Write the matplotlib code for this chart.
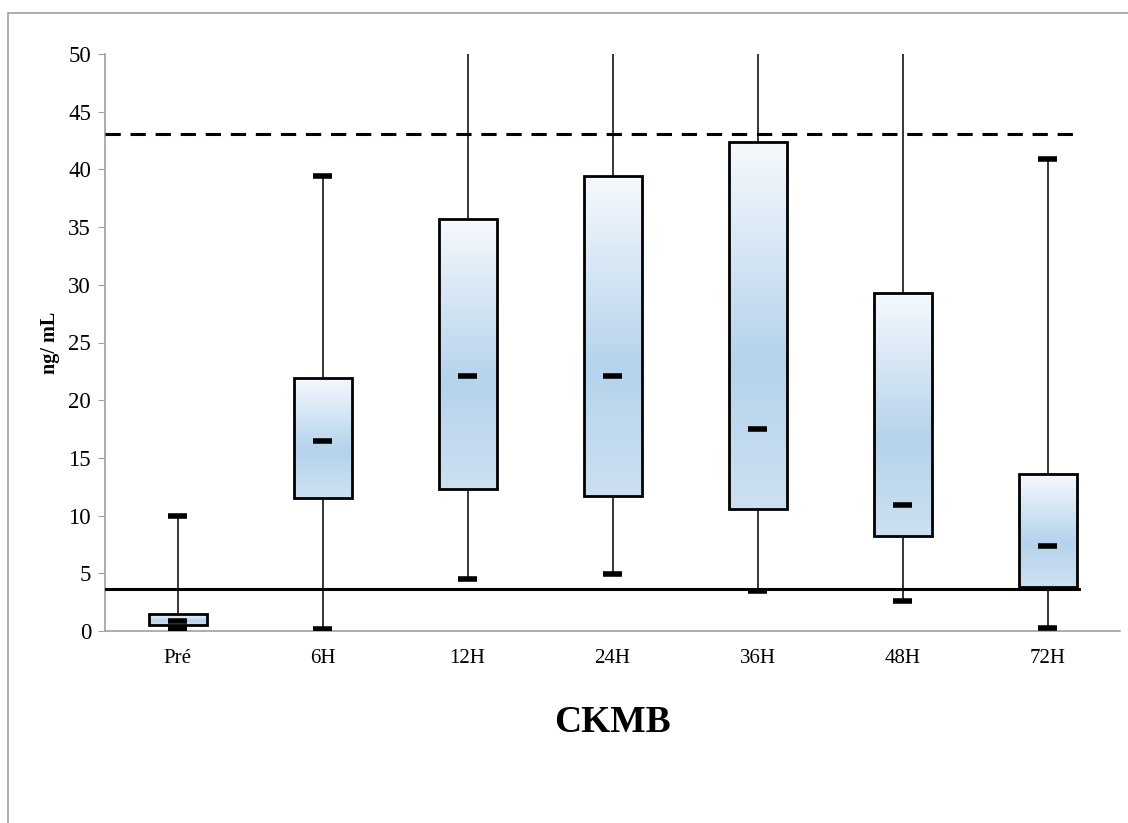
import numpy as np
import matplotlib
matplotlib.use('Agg')
import matplotlib.pyplot as plt
from matplotlib.colors import LinearSegmentedColormap
from matplotlib.patches import Rectangle

plt.rcParams['font.family'] = ['Liberation Serif', 'DejaVu Serif']

# data
groups = ['Pré', '6H', '12H', '24H', '36H', '48H', '72H']
whisker_low = [0.2, 0.2, 4.5, 4.9, 3.5, 2.6, 0.3]
q1 = [0.5, 11.5, 12.3, 11.7, 10.6, 8.25, 3.85]
median = [0.9, 16.5, 22.1, 22.1, 17.5, 10.95, 7.4]
q3 = [1.45, 21.9, 35.7, 39.4, 42.4, 29.3, 13.6]
whisker_high = [10.0, 39.4, 56.0, 56.0, 56.0, 56.0, 40.9]
upper_limit = 43.1
lower_limit = 3.64

fig = plt.figure(figsize=(11.28, 8.23), dpi=100)
fig.patches.append(Rectangle((8 / 1128, -0.01), 1.1, 1 - 13 / 823 + 0.01,
                             transform=fig.transFigure, fill=False,
                             edgecolor='#a0a0a0', lw=1.2))
ax = fig.add_axes([105 / 1128, 1 - 631 / 823, 1015 / 1128, 577 / 823])

cmap = LinearSegmentedColormap.from_list(
    'excel', [(0, '#f6f9fd'), (0.6, '#b5d3ec'), (1, '#cde0f1')])
grad = np.linspace(0, 1, 256).reshape(-1, 1)

x = np.arange(len(groups))
w = 0.4
cap = 0.13
for i in x:
    # whiskers
    ax.plot([i, i], [whisker_low[i], q1[i]], color='black', lw=1.1, zorder=2)
    ax.plot([i, i], [q3[i], whisker_high[i]], color='black', lw=1.1, zorder=2)
    ax.plot([i - cap / 2, i + cap / 2], [whisker_low[i]] * 2, color='black',
            lw=4, solid_capstyle='butt', zorder=4)
    ax.plot([i - cap / 2, i + cap / 2], [whisker_high[i]] * 2, color='black',
            lw=4, solid_capstyle='butt', zorder=4)
    # box with gradient
    ax.imshow(grad, cmap=cmap, aspect='auto', origin='upper',
              extent=[i - w / 2, i + w / 2, q1[i], q3[i]], zorder=3)
    ax.add_patch(Rectangle((i - w / 2, q1[i]), w, q3[i] - q1[i], fill=False,
                           edgecolor='black', lw=2, zorder=4))
    ax.plot([i - cap / 2, i + cap / 2], [median[i]] * 2, color='black',
            lw=4, solid_capstyle='butt', zorder=5)

ax.plot([-0.5, 6.22], [upper_limit] * 2, color='black', lw=2.2,
        dashes=(5, 3.2), zorder=5)
ax.plot([-0.5, 6.22], [lower_limit] * 2, color='black', lw=2.2, zorder=5)

ax.set_xlim(-0.5, 6.5)
ax.set_ylim(0, 50)
ax.set_yticks(range(0, 51, 5))
ax.set_xticks(x)
ax.set_xticklabels(groups, fontsize=15)
ax.tick_params(axis='y', labelsize=16.5, length=5, color='#a0a0a0', pad=5)
ax.tick_params(axis='x', length=0, pad=13)
for s in ['top', 'right']:
    ax.spines[s].set_visible(False)
for s in ['left', 'bottom']:
    ax.spines[s].set_color('#a0a0a0')
    ax.spines[s].set_linewidth(1.2)
ax.set_ylabel('ng/ mL', fontsize=14.5, fontweight='bold', labelpad=6)
fig.text(612 / 1128, 1 - 722 / 823, 'CKMB', ha='center', va='center',
         fontsize=27, fontweight='bold')

fig.savefig('out.png', dpi=100)
